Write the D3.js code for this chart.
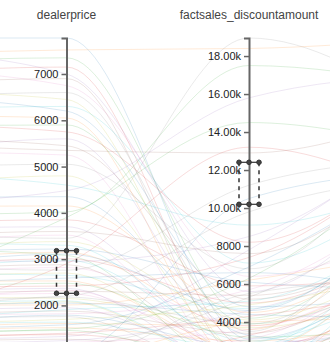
<!DOCTYPE html>
<html>
<head>
<meta charset="utf-8">
<script src="https://cdn.jsdelivr.net/npm/d3@7"></script>
<style>
  html, body { margin: 0; padding: 0; background: #fff; }
  svg { display: block; font-family: "Liberation Sans", Arial, sans-serif; }
</style>
</head>
<body>
<svg id="chart" width="330" height="342"></svg>
<script>
// Dimensions of the parallel-coordinates plot, left to right
const dimensions = ["listprice", "dealerprice", "factsales_discountamount", "factsales_salesamount"];
// Axes that get a drawn scale and title
const labelledDimensions = ["dealerprice", "factsales_discountamount"];

// One entry per product row
const listprice = [
  12990, 12400, 12100, 11700, 12600, 11300, 11900, 10800, 11100, 10400, 10900, 10200,
  9800, 9900, 8700, 9400, 8900, 8300, 7600, 8100, 7200, 6900, 6600,
  6300, 6100, 5800, 5500, 6000, 5300, 5600, 5200, 4900, 5400, 4700, 5000, 4600, 4400,
  4800, 4300, 4500, 4100, 4200, 3900, 4000, 3800, 3700, 3600, 3500, 3650, 3400, 3300,
  3350, 3800, 3000,
  3100, 2900, 3000, 2800, 2700, 2600, 2500, 2400, 2300, 2200, 2100, 2000, 1900, 1800,
  1700, 1600, 1500, 1400, 1300, 1200,
  7000, 9200,
  3200, 2950, 3100, 2750, 2600, 2450, 2350, 2150, 1950, 1750, 1550, 1350, 1250, 4450, 4650
];
const dealerprice = [
  7778, 7520, 7350, 7150, 7000, 6900, 6750, 6600, 6450, 6300, 6200, 6050,
  5900, 5750, 5600, 5450, 5250, 5050, 4800, 4600, 4350, 4150, 4020,
  3850, 3700, 3600, 3520, 3450, 3380, 3300, 3220, 3150, 3080, 3010, 2950, 2880, 2820,
  2760, 2700, 2650, 2590, 2530, 2480, 2420, 2370, 2310, 2260, 2200, 2150, 2100, 2050,
  2010, 3900, 2900,
  1950, 1880, 1820, 1760, 1700, 1640, 1580, 1520, 1460, 1400, 1330, 1270, 1200, 1130,
  1060, 990, 920, 850, 780, 700,
  4480, 5350,
  2330, 2180, 2080, 1910, 1790, 1610, 1490, 1370, 1240, 1100, 960, 820, 740, 2980, 3110
];
const discountamount = [
  3100, 18400, 4200, 2600, 5600, 1800, 6400, 3500, 2200, 7100, 4800, 1400,
  3900, 8200, 2900, 5200, 1100, 6800, 2400, 9100, 3300, 4500, 17500,
  5900, 2100, 7600, 1600, 18950, 4100, 2700, 6100, 3600, 1300, 5000, 8500, 2300, 3800,
  11200, 1900, 4700, 6600, 2500, 3200, 7400, 1500, 5400, 2800, 9800, 3700, 1700, 4400,
  6200, 14500, 13200,
  2000, 3400, 5700, 1200, 4900, 2600, 6900, 3000, 1800, 4300, 7800, 2200, 3600, 5300,
  1400, 2900, 10500, 4000, 1000, 3300,
  15800, 12900,
  2400, 3900, 1600, 5100, 2700, 3800, 6300, 2400, 4600, 1900, 3100, 5500, 2100, 3000, 4600
];
const salesamount = [
  38000, 90000, 52000, 30000, 61000, 22000, 44000, 70000, 15000, 57000, 26000, 48000,
  35000, 66000, 19000, 42000, 28000, 74000, 33000, 55000, 12000, 46000, 78000,
  31000, 24000, 63000, 17000, 71000, 39000, 50000, 27000, 58000, 21000, 43000, 68000, 14000, 36000,
  60000, 29000, 52000, 25000, 45000, 18000, 64000, 34000, 41000, 23000, 56000, 30000, 47000, 20000,
  37000, 62000, 49000,
  26000, 40000, 53000, 16000, 32000, 44000, 59000, 22000, 35000, 27000, 67000, 19000, 38000, 48000,
  24000, 31000, 57000, 20000, 42000, 29000,
  81000, 72000,
  33000, 51000, 28000, 46000, 21000, 39000, 62000, 25000, 36000, 17000, 44000, 30000, 23000, 40000, 54000
];

// Active brush selections (value ranges) on the two visible axes
const dealerBrush = [2262, 3182];
const discountBrush = [10196, 12407];

const columns = { listprice, dealerprice, factsales_discountamount: discountamount, factsales_salesamount: salesamount };
const rows = dealerprice.map((_, i) => {
  const r = {};
  dimensions.forEach(d => { r[d] = columns[d][i]; });
  return r;
});

const svg = d3.select("#chart");
const plotTop = 38, plotBottom = 398;

const x = d3.scalePoint().domain(dimensions).range([-116, 431.5]);
const y = {};
dimensions.forEach(d => {
  y[d] = d3.scaleLinear().domain([0, d3.max(columns[d])]).range([plotBottom, plotTop]);
});

const color = d3.scaleOrdinal(d3.schemeCategory10);
const line = d3.line().curve(d3.curveMonotoneX);

// Polylines for every row
svg.append("g")
  .selectAll("path")
  .data(rows)
  .join("path")
  .attr("d", r => line(dimensions.map(d => [x(d), y[d](r[d])])))
  .attr("fill", "none")
  .attr("stroke", (r, i) => color(i % 10))
  .attr("stroke-opacity", 0.16)
  .attr("stroke-width", 1);

const fmt = v => v >= 10000 ? d3.format(".2f")(v / 1000) + "k" : String(v);

// Axis and title for each labelled dimension
const axes = svg.append("g")
  .selectAll("g.dim")
  .data(labelledDimensions)
  .join("g")
  .attr("class", "dim")
  .attr("transform", d => `translate(${x(d)},0)`);

axes.each(function (d) {
  const g = d3.select(this);
  g.call(d3.axisLeft(y[d]).tickSize(5).tickSizeOuter(5).tickPadding(3).tickFormat(fmt));
  g.select(".domain").attr("stroke", "#666").attr("stroke-width", 2);
  g.selectAll(".tick").filter(v => y[d](v) > 340).remove();
  g.selectAll(".tick line").attr("stroke", "#666").attr("stroke-width", 1.5);
  g.selectAll(".tick text").attr("fill", "#222").style("font-size", "11px");
  g.append("text")
    .attr("x", 0)
    .attr("y", 19)
    .attr("text-anchor", "middle")
    .attr("fill", "#444")
    .style("font-size", "12px")
    .text(d);
});

// Brush boxes with handles
function drawBrush(dim, range) {
  const cx = x(dim);
  const y0 = y[dim](range[1]), y1 = y[dim](range[0]);
  const g = svg.append("g").attr("class", "brush");
  [cx - 10, cx + 10].forEach(bx => {
    g.append("line")
      .attr("x1", bx).attr("x2", bx).attr("y1", y0).attr("y2", y1)
      .attr("stroke", "#333").attr("stroke-width", 1.5)
      .attr("stroke-dasharray", "4,4");
  });
  [y0, y1].forEach(by => {
    g.append("line")
      .attr("x1", cx - 10).attr("x2", cx + 10).attr("y1", by).attr("y2", by)
      .attr("stroke", "#333").attr("stroke-width", 1.2);
    [cx - 10, cx, cx + 10].forEach(hx => {
      g.append("circle")
        .attr("cx", hx).attr("cy", by).attr("r", 2.3)
        .attr("fill", "#444").attr("stroke", "#333").attr("stroke-width", 1);
    });
  });
}
drawBrush("dealerprice", dealerBrush);
drawBrush("factsales_discountamount", discountBrush);
</script>
</body>
</html>
